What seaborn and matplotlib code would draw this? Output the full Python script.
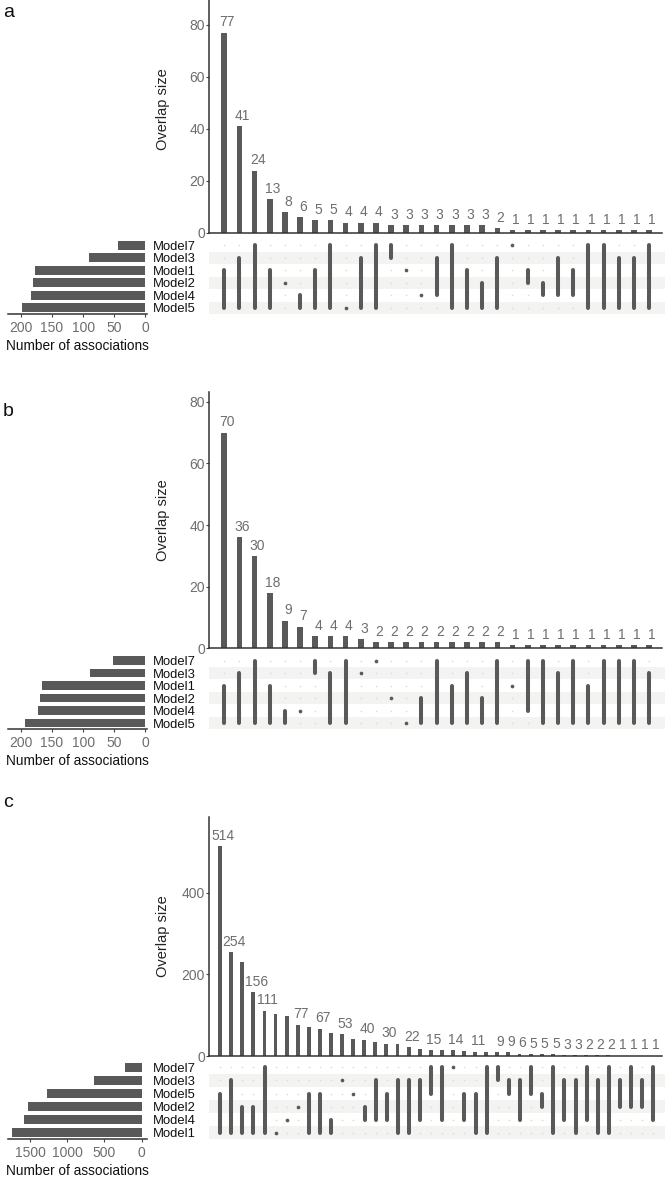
import matplotlib
matplotlib.use("Agg")
import matplotlib.pyplot as plt
import seaborn as sns

W, H, DPI = 665, 1177, 100

sns.set_theme(style="white")
plt.rcParams['font.family'] = ['Liberation Sans', 'DejaVu Sans']

BAR = '#595959'
GREY_TXT = '#6e6e6e'
STRIPE = '#f3f4f2'
DOT_OFF = '#dcdcdc'

# ---- panel a ----
a_sets = ['Model7', 'Model3', 'Model1', 'Model2', 'Model4', 'Model5']
a_set_sizes = [44, 91, 178, 181, 184, 198]
a_set_ticks = [200, 150, 100, 50, 0]
a_overlap = [77, 41, 24, 13, 8, 6, 5, 5, 4, 4, 4, 3, 3, 3, 3, 3, 3, 3, 2,
             1, 1, 1, 1, 1, 1, 1, 1, 1, 1]
# (first row, last row) of the active sets in each intersection column
a_members = [(2, 5), (1, 5), (0, 5), (2, 5), (3, 3), (4, 5), (2, 5), (0, 5), (5, 5), (1, 5),
             (0, 5), (0, 1), (2, 2), (4, 4), (1, 4), (0, 5), (2, 5), (3, 5), (1, 5), (0, 0),
             (2, 3), (3, 4), (1, 4), (2, 4), (0, 5), (0, 5), (1, 5), (1, 5), (0, 5)]
a_yticks = [0, 20, 40, 60, 80]

# ---- panel b ----
b_sets = ['Model7', 'Model3', 'Model1', 'Model2', 'Model4', 'Model5']
b_set_sizes = [52, 89, 167, 169, 173, 194]
b_set_ticks = [200, 150, 100, 50, 0]
b_overlap = [70, 36, 30, 18, 9, 7, 4, 4, 4, 3, 2, 2, 2, 2, 2, 2, 2, 2, 2,
             1, 1, 1, 1, 1, 1, 1, 1, 1, 1]
b_members = [(2, 5), (1, 5), (0, 5), (2, 5), (4, 5), (4, 4), (0, 1), (1, 5), (0, 5), (1, 1),
             (0, 0), (3, 3), (5, 5), (3, 5), (0, 5), (2, 5), (1, 5), (3, 5), (0, 5), (2, 2),
             (0, 4), (0, 5), (1, 5), (0, 5), (2, 5), (0, 5), (0, 5), (0, 5), (1, 5)]
b_yticks = [0, 20, 40, 60, 80]

# ---- panel c ----
c_sets = ['Model7', 'Model3', 'Model5', 'Model2', 'Model4', 'Model1']
c_set_sizes = [222, 636, 1273, 1534, 1591, 1744]
c_set_ticks = [1500, 1000, 500, 0]
c_overlap = [514, 254, 230, 156, 111, 102, 98, 77, 70, 67, 57, 53, 41, 40, 35, 30, 29, 22,
             17, 15, 14, 14, 12, 11, 10, 9, 9, 6, 5, 5, 5, 3, 3, 2, 2, 2, 1, 1, 1, 1]
c_members = [(2, 5), (1, 5), (3, 5), (3, 5), (0, 5), (5, 5), (4, 4), (3, 3), (2, 5), (2, 5),
             (4, 5), (1, 1), (2, 2), (3, 4), (1, 4), (2, 4), (1, 5), (1, 5), (1, 4), (0, 2),
             (0, 4), (0, 0), (2, 4), (2, 5), (0, 5), (0, 1), (1, 2), (1, 4), (0, 2), (2, 3),
             (0, 5), (1, 4), (1, 5), (0, 4), (1, 5), (0, 5), (1, 3), (0, 3), (1, 3), (0, 4)]
# columns whose count label is printed (the others overlap a neighbour)
c_labeled = [0, 1, 3, 4, 7, 9, 11, 13, 15, 17, 19, 21, 23] + list(range(25, 40))
c_yticks = [0, 200, 400]

fig = plt.figure(figsize=(W / DPI, H / DPI), dpi=DPI)


def add_ax(x0, y0, x1, y1):
    return fig.add_axes([x0 / W, 1 - y1 / H, (x1 - x0) / W, (y1 - y0) / H])


def draw_panel(letter, letter_y, sets, set_sizes, set_ticks, set_xlim, overlap, members,
               labeled, yticks, bar_top, bar_bot, ymax, row0, step, bar_w, ylab_y):
    n = len(overlap)
    xlim = (-1, n - 0.15)

    # intersection size bars
    ax = add_ax(209, bar_top, 662, bar_bot)
    sns.barplot(x=list(range(n)), y=overlap, color=BAR, saturation=1, width=bar_w,
                linewidth=0, ax=ax)
    ax.set_xlim(xlim)
    ax.set_ylim(0, ymax)
    ax.set_xticks([])
    ax.set_yticks(yticks)
    ax.tick_params(axis='y', length=2, width=0.8, pad=1, labelsize=10,
                   labelcolor=GREY_TXT, color='#444444', left=True)
    for s in ['top', 'right']:
        ax.spines[s].set_visible(False)
    for s in ['left', 'bottom']:
        ax.spines[s].set_color('#333333')
        ax.spines[s].set_linewidth(1.1)
    ax.set_ylabel('Overlap size', fontsize=10.5, color='#222222')
    ax.yaxis.set_label_coords(-0.086, ylab_y)
    for i in labeled:
        ax.annotate(str(overlap[i]), (i, overlap[i]), xytext=(2.2, 4.5),
                    textcoords='offset points', ha='center', va='baseline',
                    fontsize=10, color=GREY_TXT)

    # membership matrix
    m_top = row0 - step / 2
    m_bot = row0 + 5.5 * step
    mx = add_ax(209, m_top, 665, m_bot)
    mx.set_xlim(xlim[0], xlim[1] + 0.2)
    mx.set_ylim(5.5, -0.5)
    for r in (1, 3, 5):
        mx.axhspan(r - 0.5, r + 0.5, color=STRIPE, lw=0, zorder=0)
    xs = [i for i in range(n) for r in range(6)]
    ys = [r for i in range(n) for r in range(6)]
    mx.scatter(xs, ys, s=1.5, color=DOT_OFF, lw=0, zorder=1)
    for i, (r0, r1) in enumerate(members):
        if r0 == r1:
            mx.scatter([i], [r0], s=7, color=BAR, lw=0, zorder=3)
        else:
            mx.plot([i, i], [r0, r1], color=BAR, lw=2.9, solid_capstyle='round', zorder=2)
    mx.axis('off')

    # set sizes
    sx = add_ax(8, m_top, 147, m_bot)
    sns.barplot(x=set_sizes, y=sets, orient='h', color=BAR, saturation=1, width=0.7,
                linewidth=0, ax=sx)
    sx.set_xlim(set_xlim)
    sx.set_ylim(5.5, -0.5)
    sx.set_xticks(set_ticks)
    sx.yaxis.tick_right()
    sx.tick_params(axis='y', length=0, pad=4, labelsize=9.4, labelcolor='#111111')
    sx.tick_params(axis='x', length=2, width=0.8, pad=3, labelsize=10,
                   labelcolor=GREY_TXT, color='#444444', bottom=True)
    for s in ['top', 'right', 'left']:
        sx.spines[s].set_visible(False)
    sx.spines['bottom'].set_color('#333333')
    sx.spines['bottom'].set_linewidth(1.1)
    sx.set_ylabel('')
    sx.set_xlabel('Number of associations', fontsize=9.8, color='#111111', labelpad=3)

    fig.text(3 / W, 1 - letter_y / H, letter, fontsize=14, va='baseline', color='#111111')


draw_panel('a', 17, a_sets, a_set_sizes, a_set_ticks, (221, -3), a_overlap, a_members,
           list(range(len(a_overlap))), a_yticks, 0, 233, 89.5, 245.3, 12.5, 0.37, 0.53)
draw_panel('b', 416, b_sets, b_set_sizes, b_set_ticks, (221, -3), b_overlap, b_members,
           list(range(len(b_overlap))), b_yticks, 392, 648.3, 83.2, 660.6, 12.5, 0.37, 0.5)
draw_panel('c', 807, c_sets, c_set_sizes, c_set_ticks, (1801, -73), c_overlap, c_members,
           c_labeled, c_yticks, 816.7, 1056, 586, 1067.3, 13.1, 0.35, 0.5)

fig.savefig('out.png', dpi=DPI)
